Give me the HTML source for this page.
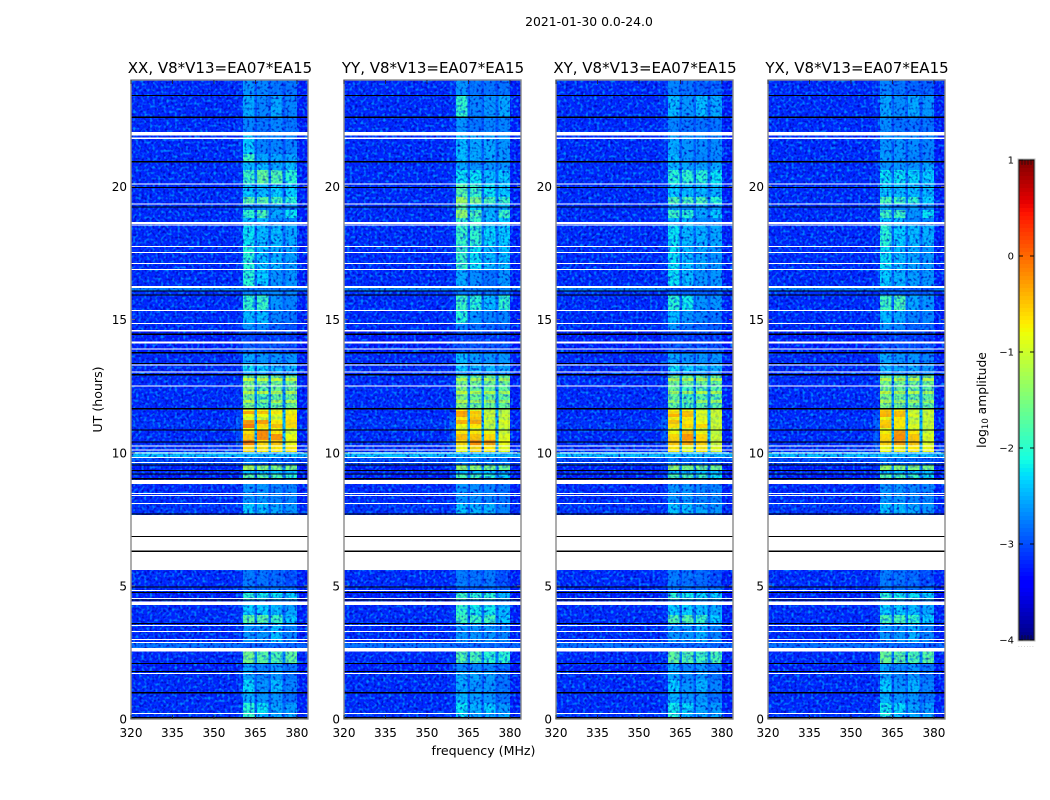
<!DOCTYPE html>
<html>
<head>
<meta charset="utf-8">
<title>2021-01-30 amplitude waterfall</title>
<style>
html,body{margin:0;padding:0;background:#fff;}
svg{display:block;}
text{font-family:"DejaVu Sans","Liberation Sans",sans-serif;fill:#000;}
</style>
</head>
<body>
<svg id="chart" xmlns="http://www.w3.org/2000/svg" width="1050" height="800" viewBox="0 0 1050 800">
<defs>
<filter id="grain-dark" x="0" y="0" width="100%" height="100%" color-interpolation-filters="sRGB">
<feTurbulence type="fractalNoise" baseFrequency="0.38" numOctaves="1" seed="3"/>
<feColorMatrix type="matrix" values="0 0 0 0 0  0 0 0 0 0  0 0 0 0 0.72  3.2 0 0 0 -1.56"/>
</filter>
<filter id="grain-light" x="0" y="0" width="100%" height="100%" color-interpolation-filters="sRGB">
<feTurbulence type="fractalNoise" baseFrequency="0.36" numOctaves="1" seed="11"/>
<feColorMatrix type="matrix" values="0 0 0 0 0  0 0 0 0 0.55  0 0 0 0 1  0 3.4 0 0 -1.64"/>
</filter>
</defs>
<rect x="0" y="0" width="1050" height="800" fill="#fff"/>
<text x="589" y="26" font-size="12.4" text-anchor="middle">2021-01-30 0.0-24.0</text>
<g id="panels"></g>
<text x="483.5" y="755" font-size="12.6" text-anchor="middle">frequency (MHz)</text>
<text transform="translate(102,399.5) rotate(-90)" font-size="12.6" text-anchor="middle">UT (hours)</text>
<g id="colorbar"></g>
<text transform="translate(986,400) rotate(-90)" font-size="12.3" text-anchor="middle">log<tspan font-size="8.5" dy="2">10</tspan><tspan dy="-2"> amplitude</tspan></text>
</svg>
<script>
const polarizations = ["XX", "YY", "XY", "YX"];
const baselineLabel = "V8*V13=EA07*EA15";
const xTicks = [320, 335, 350, 365, 380];
const yTicks = [0, 5, 10, 15, 20];
const colorTicks = [1, 0, -1, -2, -3, -4];

/* band edges in MHz */
const bandEdges = [[360.5, 364.7], [365.6, 369.8], [370.7, 374.8], [375.8, 380.0]];

/* time-row boundaries in UT hours, descending */
const rowEdges = [24,23.4,22.61,22.05,21.22,20.93,20.62,20.09,19.61,19.34,19.12,18.82,18.55,17.73,16.86,16.19,16.08,15.92,15.32,14.84,14.61,14.42,14.12,13.75,13.3,13.03,12.92,12.81,12.69,12.51,12.32,12.21,11.98,11.87,11.68,11.57,11.46,11.34,11.23,11.08,10.93,10.85,10.7,10.48,10.29,10.03,9.8,9.54,9.35,9.2,9.05,8.83,8.11,7.7,5.6,4.96,4.77,4.47,4.28,3.91,3.57,2.85,2.55,2.1,1.8,1.46,1.01,0.6,0.19,0];

/* log10 amplitude outside the bands, one per row */
const backgroundLevels = [-3.2,-3.2,-3.2,-3.2,-3.2,-3.2,-3.2,-3.2,-3.2,-3.2,-3.2,-3.2,-3.2,-3.2,-3.2,-2.75,-3.15,-3.2,-3.2,-3.2,-3.25,-3.25,-3.25,-3.2,-3.2,-3.2,-3.2,-3.2,-3.2,-3.2,-3.2,-3.2,-3.2,-3.2,-3.2,-3.2,-3.2,-3.2,-3.15,-3.15,-3.2,-3.2,-3.2,-3.2,-3.2,-2.4,-3.05,-3.25,-3.2,-3.25,-3.2,-3.2,-3.15,-3.2,-3.2,-3.2,-3.25,-3.2,-3.2,-3.2,-3.2,-2.85,-3.2,-3.25,-3.2,-3.2,-3.2,-3.2,-3.15];

/* log10 amplitude just below the band (358-360.5 MHz), one per row */
const shoulderLevels = [-3.15,-3.15,-3.15,-3.15,-3.15,-3.15,-3.15,-3.15,-3.15,-3.15,-3.15,-3.15,-3.15,-3.15,-3.15,-2.75,-3.15,-3.15,-3.15,-3.15,-3.15,-3.15,-3.15,-3.15,-3.15,-3.15,-3.15,-3.15,-3.15,-3.15,-3.15,-3.15,-3.15,-3.15,-3.15,-3.1,-3.05,-3,-2.95,-2.95,-3,-3.05,-3,-3,-3.05,-2.4,-3.05,-3.15,-3.15,-3.15,-3.15,-3.15,-3.15,-3.15,-3.15,-3.15,-3.15,-3.15,-3.15,-3.15,-3.15,-2.85,-3.15,-3.15,-3.15,-3.15,-3.15,-3.15,-3.15];

/* log10 amplitude per row: [band1, band2, band3, band4] */
const levelsXX = [[-2.5,-2.6,-2.7,-2.7],[-2.4,-2.6,-2.4,-2.6],[-2.6,-2.7,-2.6,-2.7],[-2.2,-2.6,-2.6,-2.6],[-1.9,-2.4,-2.4,-2.4],[-2.3,-2.3,-2.4,-2.3],[-1.9,-1.65,-1.75,-2],[-2.2,-2.3,-2.2,-2.2],[-1.7,-1.7,-1.85,-2],[-2.5,-2.6,-2.5,-2.5],[-1.95,-1.8,-2.4,-2.1],[-2.3,-2.3,-2.6,-2.6],[-2.1,-2.3,-2.3,-2.4],[-2,-2.25,-2.35,-2.45],[-2,-2.2,-2.5,-2.5],[-2.7,-2.7,-2.7,-2.7],[-2.6,-2.6,-2.6,-2.6],[-1.95,-1.9,-2.5,-2.6],[-2.3,-2.3,-2.6,-2.7],[-2.5,-2.6,-2.8,-2.9],[-2.9,-2.9,-2.9,-2.9],[-2.95,-3,-3,-3],[-2.8,-2.9,-2.9,-3],[-2.4,-2.5,-2.5,-2.5],[-2.1,-2.2,-2.3,-2.3],[-2.6,-2.6,-2.6,-2.6],[-1.6,-1.6,-1.6,-1.6],[-1,-1.05,-1.05,-1.05],[-1.5,-1.55,-1.55,-1.55],[-1.45,-1.75,-1.6,-1.6],[-1.1,-1.1,-1.1,-1.15],[-1.55,-1.8,-1.65,-1.6],[-1.15,-1.5,-1.2,-1.2],[-1.55,-1.8,-1.65,-1.6],[-0.8,-0.8,-0.9,-0.9],[-0.35,-0.5,-0.7,-0.75],[-0.8,-0.8,-0.9,-0.7],[-1,-1,-1,-0.7],[-0.3,-0.3,-0.7,-0.6],[-0.1,-0.6,-0.5,-0.6],[-0.8,-0.8,-0.8,-1],[-0.65,-0.2,-0.7,-1],[-0.5,-0.2,-0.25,-0.8],[-0.15,-0.6,-0.5,-0.8],[-0.6,-0.7,-0.7,-0.7],[-2.3,-2.3,-2.3,-2.3],[-2.6,-2.7,-2.7,-2.8],[-1.2,-1.4,-1.5,-1.5],[-2.3,-2.3,-2.3,-2.3],[-1.7,-1.7,-1.8,-2],[-2.5,-2.5,-2.5,-2.5],[-2.5,-2.5,-2.6,-2.6],[-2.2,-2.3,-2.4,-2.5],[-3,-3,-3,-3],[-2.65,-2.7,-2.75,-2.9],[-2.7,-2.7,-2.7,-2.7],[-2,-2.05,-2.1,-2.2],[-2.6,-2.6,-2.6,-2.6],[-2.2,-2.2,-2.3,-2.4],[-1.7,-1.7,-1.9,-2.2],[-2.5,-2.5,-2.3,-2.6],[-2.8,-2.8,-2.8,-2.8],[-1.55,-1.7,-1.8,-1.65],[-2.4,-2.6,-2.5,-2.7],[-2.4,-2.6,-2.5,-2.7],[-2.15,-2.5,-2.3,-2.6],[-2.35,-2.5,-2.5,-2.7],[-2,-2.1,-2.4,-2.45],[-1.9,-2.3,-2.4,-2.4]];

const levelsYY = [[-2.5,-2.7,-2.7,-2.7],[-1.95,-2.6,-2.5,-2.4],[-2.5,-2.7,-2.6,-2.6],[-2.3,-2.4,-2.4,-2.5],[-2.3,-2.4,-2.4,-2.5],[-2.4,-2.5,-2.5,-2.5],[-2.1,-2.1,-2.3,-2.2],[-1.7,-1.9,-2.1,-2.2],[-1.3,-1.5,-1.8,-1.9],[-1.7,-2.2,-2.4,-2.3],[-1.35,-1.8,-2.3,-1.9],[-1.9,-1.9,-2.3,-2.2],[-1.9,-1.95,-2.15,-2.2],[-1.9,-2.1,-2.3,-2.3],[-2.4,-2.55,-2.7,-2.5],[-2.6,-2.6,-2.6,-2.6],[-2.7,-2.7,-2.7,-2.7],[-1.9,-2,-2.3,-1.95],[-2,-2.5,-2.6,-2.6],[-2.6,-2.7,-2.8,-2.8],[-2.9,-2.9,-2.9,-2.9],[-3,-3,-3,-3],[-2.9,-2.9,-2.9,-2.9],[-2.3,-2.45,-2.5,-2.5],[-2.2,-2.3,-2.3,-2.4],[-2.6,-2.6,-2.6,-2.6],[-1.65,-1.65,-1.65,-1.65],[-1.15,-1.2,-1.2,-1.2],[-1.5,-1.55,-1.55,-1.55],[-1.45,-1.6,-1.6,-1.65],[-1.05,-1.15,-1.15,-1.2],[-1.45,-1.6,-1.6,-1.65],[-1.1,-1.25,-1.25,-1.3],[-1.45,-1.6,-1.6,-1.65],[-0.7,-0.9,-1.1,-1.1],[-0.3,-0.5,-1,-1.1],[-0.35,-0.6,-1,-1],[-0.7,-0.5,-1.1,-1.1],[-0.4,-0.35,-1,-0.9],[-0.8,-0.7,-1.1,-1],[-1,-1,-1.2,-1.1],[-0.7,-0.7,-0.8,-1],[-0.45,-0.5,-0.6,-0.9],[-0.6,-0.2,-0.3,-0.8],[-0.8,-0.6,-0.7,-0.9],[-2.3,-2.3,-2.3,-2.3],[-2.6,-2.6,-2.6,-2.6],[-1.3,-1.4,-1.5,-1.6],[-2.3,-2.3,-2.3,-2.3],[-1.8,-1.85,-2,-2.2],[-2.5,-2.5,-2.5,-2.5],[-2.5,-2.55,-2.6,-2.7],[-2.25,-2.35,-2.35,-2.6],[-3,-3,-3,-3],[-2.65,-2.7,-2.65,-2.9],[-2.8,-2.8,-2.8,-2.8],[-1.9,-2,-2,-2.3],[-2.6,-2.6,-2.6,-2.6],[-1.95,-2.05,-2.05,-2.3],[-1.85,-1.9,-1.85,-2.2],[-2.5,-2.5,-2.5,-2.6],[-2.8,-2.8,-2.8,-2.8],[-1.75,-1.8,-2,-2],[-2.6,-2.6,-2.6,-2.8],[-2.35,-2.4,-2.45,-2.7],[-2.4,-2.5,-2.5,-2.7],[-2.3,-2.45,-2.5,-2.7],[-2.1,-2.35,-2.2,-2.45],[-2.1,-2.4,-2.4,-2.4]];

const levelsXY = [[-2.6,-2.7,-2.8,-2.8],[-2.3,-2.5,-2.3,-2.4],[-2.6,-2.7,-2.7,-2.7],[-2.4,-2.5,-2.55,-2.55],[-2.3,-2.5,-2.6,-2.6],[-2.3,-2.4,-2.4,-2.4],[-2,-1.95,-2,-2.1],[-2.2,-2.3,-2.3,-2.3],[-1.75,-1.8,-1.8,-2],[-2.4,-2.6,-2.4,-2.5],[-1.9,-2,-2.4,-2.2],[-2.3,-2.3,-2.6,-2.6],[-2.1,-2.3,-2.35,-2.4],[-2.1,-2.3,-2.4,-2.5],[-2.1,-2.3,-2.5,-2.5],[-2.85,-2.85,-2.85,-2.85],[-2.8,-2.8,-2.8,-2.8],[-2,-2.05,-2.5,-2.5],[-2.3,-2.5,-2.6,-2.7],[-2.5,-2.7,-2.8,-2.8],[-2.9,-2.9,-2.9,-2.9],[-3,-3,-3,-3],[-2.9,-2.9,-2.9,-2.9],[-2.4,-2.5,-2.5,-2.5],[-2.1,-2.2,-2.3,-2.35],[-2.6,-2.6,-2.6,-2.6],[-1.65,-1.65,-1.65,-1.65],[-1.15,-1.15,-1.15,-1.15],[-1.55,-1.6,-1.6,-1.6],[-1.6,-1.85,-1.7,-1.7],[-1.25,-1.25,-1.15,-1.2],[-1.65,-1.85,-1.7,-1.7],[-1.35,-1.6,-1.3,-1.3],[-1.65,-1.85,-1.7,-1.7],[-0.75,-0.8,-1,-1],[-0.6,-0.5,-0.9,-1],[-0.4,-0.45,-0.9,-1],[-0.75,-0.7,-0.9,-1.1],[-0.5,-0.7,-0.8,-1],[-0.65,-0.6,-0.6,-1],[-1,-1,-1,-1],[-0.8,-0.5,-0.8,-1.1],[-0.6,-0.25,-0.6,-1],[-0.5,-0.35,-0.55,-1],[-0.7,-0.85,-0.7,-0.9],[-2.3,-2.3,-2.3,-2.3],[-2.6,-2.7,-2.7,-2.8],[-1.35,-1.5,-1.55,-1.55],[-2.3,-2.3,-2.3,-2.3],[-1.8,-1.8,-1.9,-2.1],[-2.5,-2.5,-2.5,-2.5],[-2.5,-2.5,-2.6,-2.6],[-2.25,-2.3,-2.4,-2.5],[-3,-3,-3,-3],[-2.65,-2.7,-2.75,-2.9],[-2.7,-2.7,-2.7,-2.7],[-2,-2.05,-2.15,-2.2],[-2.6,-2.6,-2.6,-2.6],[-2.2,-2.2,-2.3,-2.4],[-1.75,-1.75,-1.9,-2.2],[-2.5,-2.5,-2.35,-2.6],[-2.8,-2.8,-2.8,-2.8],[-1.65,-1.75,-1.85,-1.8],[-2.4,-2.6,-2.5,-2.7],[-2.4,-2.6,-2.5,-2.7],[-2.2,-2.5,-2.35,-2.6],[-2.35,-2.5,-2.5,-2.7],[-2.05,-2.15,-2.4,-2.45],[-2,-2.3,-2.4,-2.4]];

const levelsYX = [[-2.6,-2.7,-2.8,-2.8],[-2.4,-2.55,-2.4,-2.5],[-2.55,-2.7,-2.7,-2.7],[-2.5,-2.5,-2.55,-2.6],[-2.45,-2.5,-2.6,-2.6],[-2.5,-2.5,-2.5,-2.4],[-2.1,-2.1,-2.15,-2.2],[-2.2,-2.3,-2.3,-2.3],[-1.8,-1.85,-1.95,-2.2],[-2.4,-2.6,-2.5,-2.6],[-1.85,-1.85,-2.5,-2.1],[-2.2,-2.3,-2.6,-2.6],[-2,-2.2,-2.3,-2.35],[-2.1,-2.3,-2.4,-2.5],[-2.2,-2.35,-2.45,-2.5],[-2.85,-2.85,-2.85,-2.85],[-2.8,-2.8,-2.8,-2.8],[-1.85,-1.8,-2.4,-2.5],[-2.3,-2.4,-2.6,-2.6],[-2.5,-2.6,-2.8,-2.8],[-2.9,-2.9,-2.9,-2.9],[-3,-3,-3,-3],[-2.9,-2.9,-2.9,-2.9],[-2.4,-2.5,-2.5,-2.6],[-2.3,-2.4,-2.4,-2.5],[-2.6,-2.6,-2.6,-2.6],[-1.6,-1.6,-1.6,-1.6],[-1.1,-1.1,-1.1,-1.1],[-1.5,-1.55,-1.55,-1.55],[-1.5,-1.6,-1.6,-1.65],[-1.05,-1.15,-1.15,-1.2],[-1.5,-1.6,-1.6,-1.65],[-1.15,-1.25,-1.25,-1.3],[-1.5,-1.6,-1.6,-1.65],[-0.55,-0.7,-1,-1],[-0.45,-0.5,-1,-1],[-0.4,-0.45,-0.9,-1],[-0.8,-0.7,-1.1,-1.05],[-0.55,-0.7,-1,-1],[-0.5,-0.7,-0.9,-1],[-0.9,-0.9,-1,-1.1],[-0.75,-0.3,-0.7,-1],[-0.6,-0.2,-0.5,-0.9],[-0.55,-0.3,-0.5,-0.9],[-0.8,-0.75,-0.7,-0.8],[-2.3,-2.3,-2.3,-2.3],[-2.6,-2.7,-2.7,-2.8],[-1.3,-1.4,-1.45,-1.5],[-2.3,-2.3,-2.3,-2.3],[-1.75,-1.8,-1.9,-2.1],[-2.5,-2.5,-2.5,-2.5],[-2.5,-2.5,-2.6,-2.6],[-2.25,-2.3,-2.4,-2.5],[-3,-3,-3,-3],[-2.65,-2.7,-2.75,-2.9],[-2.7,-2.7,-2.7,-2.7],[-2,-2.05,-2.1,-2.2],[-2.6,-2.6,-2.6,-2.6],[-2.2,-2.2,-2.3,-2.4],[-1.8,-1.8,-1.95,-2.2],[-2.5,-2.5,-2.35,-2.6],[-2.8,-2.8,-2.8,-2.8],[-1.6,-1.7,-1.8,-1.7],[-2.4,-2.6,-2.5,-2.7],[-2.4,-2.6,-2.5,-2.7],[-2.2,-2.5,-2.35,-2.6],[-2.35,-2.5,-2.5,-2.7],[-2.05,-2.15,-2.4,-2.45],[-2,-2.3,-2.4,-2.4]];

/* flagged (blank) time ranges, [start hour, end hour] */
const whiteFlags = [[21.91,22.05],[21.78,21.84],[20.08,20.11],[19.32,19.36],[18.6,18.67],[18.54,18.57],[17.73,17.77],[17.5,17.54],[17.09,17.13],[16.86,16.9],[16.19,16.26],[15.32,15.36],[14.84,14.87],[14.55,14.61],[14.1,14.18],[13.88,13.92],[13.29,13.32],[13.01,13.05],[12.48,12.52],[10.24,10.27],[10.09,10.13],[9.98,10.01],[9.8,9.84],[9.64,9.66],[8.82,8.98],[8.46,8.49],[8.38,8.41],[8.08,8.11],[5.6,7.66],[4.81,4.85],[4.51,4.54],[4.28,4.41],[3.49,3.53],[3.27,3.31],[2.97,3],[2.85,2.89],[2.53,2.67],[1.69,1.73],[0.18,0.23]];

/* zero-amplitude (black) time ranges, [start hour, end hour] */
const blackFlags = [[23.39,23.43],[22.58,22.62],[20.91,20.95],[19.95,19.99],[19.21,19.25],[16.06,16.1],[15.9,15.94],[14.42,14.48],[13.73,13.78],[13.33,13.37],[12.91,12.95],[11.62,11.68],[10.83,10.87],[10.39,10.43],[9.52,9.56],[9.31,9.35],[9.18,9.22],[8.99,9.05],[7.68,7.72],[6.84,6.88],[6.28,6.32],[4.93,4.97],[4.73,4.77],[4.45,4.49],[3.56,3.6],[2.07,2.11],[1.77,1.81],[0.96,1.01],[0.02,0.08]];

const panelLevels = [levelsXX, levelsYY, levelsXY, levelsYX];
const panelLefts = [131, 344, 556, 768];
const PANEL_W = 177, TOP = 80, BOTTOM = 719;
const FREQ_MIN = 320, FREQ_MAX = 384, HOUR_MAX = 24, CB_MIN = -4, CB_MAX = 1;
const CB_X = 1019, CB_W = 15, CB_TOP = 160, CB_BOTTOM = 640;
const SVGNS = "http://www.w3.org/2000/svg";

function xScale(panel, mhz) { return panelLefts[panel] + (mhz - FREQ_MIN) / (FREQ_MAX - FREQ_MIN) * PANEL_W; }
function yScale(hour) { return BOTTOM - hour / HOUR_MAX * (BOTTOM - TOP); }
function cbScale(v) { return CB_BOTTOM - (v - CB_MIN) / (CB_MAX - CB_MIN) * (CB_BOTTOM - CB_TOP); }

function ramp(t, pts) {
  for (let i = 1; i < pts.length; i++) {
    if (t <= pts[i][0]) {
      const a = pts[i - 1], b = pts[i];
      return a[1] + (b[1] - a[1]) * (t - a[0]) / (b[0] - a[0]);
    }
  }
  return pts[pts.length - 1][1];
}
function jet(v) {
  const t = Math.max(0, Math.min(1, (v - CB_MIN) / (CB_MAX - CB_MIN)));
  const r = ramp(t, [[0,0],[0.35,0],[0.66,1],[0.89,1],[1,0.5]]);
  const g = ramp(t, [[0,0],[0.125,0],[0.375,1],[0.64,1],[0.91,0],[1,0]]);
  const b = ramp(t, [[0,0.5],[0.11,1],[0.34,1],[0.65,0],[1,0]]);
  return "rgb(" + Math.round(r * 255) + "," + Math.round(g * 255) + "," + Math.round(b * 255) + ")";
}
function make(tag, attrs, parent) {
  const el = document.createElementNS(SVGNS, tag);
  for (const k in attrs) el.setAttribute(k, attrs[k]);
  parent.appendChild(el);
  return el;
}

const panelsRoot = document.getElementById("panels");

polarizations.forEach(function (pol, p) {
  const g = make("g", {}, panelsRoot);
  
  

  const x0 = panelLefts[p], x1 = x0 + PANEL_W;

  const cells = make("g", { "shape-rendering": "crispEdges" }, g);
  
  

  const levels = panelLevels[p];
  const segsByRow = levels.map(function (row, r) {
    const bg = backgroundLevels[r], sh = shoulderLevels[r];
    const mean = (row[0] + row[1] + row[2] + row[3]) / 4;
    const gap = Math.max(bg, -3.15 + 0.28 * (mean + 3.15));
    return [
      [FREQ_MIN, 358, bg, false], [358, bandEdges[0][0], sh, false],
      [bandEdges[0][0], bandEdges[0][1], row[0], true], [bandEdges[0][1], bandEdges[1][0], gap, false],
      [bandEdges[1][0], bandEdges[1][1], row[1], true], [bandEdges[1][1], bandEdges[2][0], gap, false],
      [bandEdges[2][0], bandEdges[2][1], row[2], true], [bandEdges[2][1], bandEdges[3][0], gap, false],
      [bandEdges[3][0], bandEdges[3][1], row[3], true], [bandEdges[3][1], FREQ_MAX, bg - 0.05, false]
    ];
  });

  segsByRow.forEach(function (segs, r) {
    const yTop = yScale(rowEdges[r]), yBot = yScale(rowEdges[r + 1]);
    segs.forEach(function (s) {
      const lvl = s[3] && s[2] < -2 ? s[2] - 0.12 : s[2];
      const cell = make("rect", { x: xScale(p, s[0]), y: yTop, width: xScale(p, s[1]) - xScale(p, s[0]), height: yBot - yTop, fill: jet(lvl) }, cells);
      
      
    });
  });

  const grainD = make("rect", { x: x0, y: TOP, width: PANEL_W, height: BOTTOM - TOP, filter: "url(#grain-dark)" }, g);
  
  
  const grainL = make("rect", { x: x0, y: TOP, width: PANEL_W, height: BOTTOM - TOP, filter: "url(#grain-light)" }, g);
  
  

  /* strong signal has little visible noise: repaint bright band cells over the grain */
  const clean = make("g", { "shape-rendering": "crispEdges" }, g);
  
  
  segsByRow.forEach(function (segs, r) {
    const yTop = yScale(rowEdges[r]), yBot = yScale(rowEdges[r + 1]);
    segs.forEach(function (s) {
      if (!s[3] || s[2] <= -2.2) return;
      const cell = make("rect", { x: xScale(p, s[0]), y: yTop, width: xScale(p, s[1]) - xScale(p, s[0]), height: yBot - yTop, fill: jet(s[2]), opacity: Math.min(0.85, (s[2] + 2.2) / 1.6) }, clean);
      
      
    });
  });

  const flags = make("g", { "shape-rendering": "crispEdges" }, g);
  
  
  whiteFlags.forEach(function (f) {
    const band = make("rect", { x: x0, y: yScale(f[1]), width: PANEL_W, height: Math.max(1, yScale(f[0]) - yScale(f[1])), fill: "#fff" }, flags);
    
    
  });
  blackFlags.forEach(function (f) {
    const band = make("rect", { x: x0, y: yScale(f[1]), width: PANEL_W, height: Math.max(1, yScale(f[0]) - yScale(f[1])), fill: "#000" }, flags);
    
    
  });

  const frame = make("rect", { x: x0, y: TOP, width: PANEL_W, height: BOTTOM - TOP, fill: "none", stroke: "#8a8a8a", "stroke-width": 1.4 }, g);
  
  

  xTicks.forEach(function (t) {
    const x = xScale(p, t);
    const tb = make("line", { x1: x, x2: x, y1: BOTTOM, y2: BOTTOM - 4, stroke: "#222", "stroke-width": 0.8 }, g);
    
    
    const tt = make("line", { x1: x, x2: x, y1: TOP, y2: TOP + 4, stroke: "#222", "stroke-width": 0.8 }, g);
    
    
    const lab = make("text", { x: x, y: 737, "font-size": 12, "text-anchor": "middle" }, g);
    
    
    lab.textContent = String(t);
  });
  yTicks.forEach(function (t) {
    const y = yScale(t);
    const tl = make("line", { x1: x0, x2: x0 + 4, y1: y, y2: y, stroke: "#777", "stroke-width": 0.8 }, g);
    
    
    const tr = make("line", { x1: x1, x2: x1 - 4, y1: y, y2: y, stroke: "#777", "stroke-width": 0.8 }, g);
    
    
    const lab = make("text", { x: x0 - 4, y: y + 4.5, "font-size": 12, "text-anchor": "end" }, g);
    
    
    lab.textContent = String(t);
  });

  const title = make("text", { x: x0 + PANEL_W / 2 + 0.5, y: 73, "font-size": 15, "text-anchor": "middle" }, g);
  
  
  title.textContent = pol + ", " + baselineLabel;
});

const cb = document.getElementById("colorbar");
const CB_STEPS = 120;
for (let i = 0; i < CB_STEPS; i++) {
  const vHigh = CB_MAX - i * (CB_MAX - CB_MIN) / CB_STEPS;
  const vLow = CB_MAX - (i + 1) * (CB_MAX - CB_MIN) / CB_STEPS;
  const seg = make("rect", { x: CB_X, y: cbScale(vHigh), width: CB_W, height: cbScale(vLow) - cbScale(vHigh) + 0.5, fill: jet((vHigh + vLow) / 2), "shape-rendering": "crispEdges" }, cb);
  
  
}
const cbFrame = make("rect", { x: CB_X, y: CB_TOP, width: CB_W, height: CB_BOTTOM - CB_TOP, fill: "none", stroke: "#1a1a1a", "stroke-width": 1 }, cb);


const cbOuter = make("rect", { x: CB_X - 1, y: CB_TOP - 1, width: CB_W + 2, height: CB_BOTTOM - CB_TOP + 2, fill: "none", stroke: "#bbb", "stroke-width": 1 }, cb);



colorTicks.forEach(function (t) {
  const y = cbScale(t);
  const l = make("line", { x1: CB_X, x2: CB_X + 4, y1: y, y2: y, stroke: "#000", "stroke-width": 0.9 }, cb);
  
  
  const rt = make("line", { x1: CB_X + CB_W, x2: CB_X + CB_W - 4, y1: y, y2: y, stroke: "#000", "stroke-width": 0.9 }, cb);
  
  
  const lab = make("text", { x: CB_X - 5, y: y + 3.5, "font-size": 10, "text-anchor": "end" }, cb);
  
  
  lab.textContent = (t < 0 ? "\u2212" : "") + Math.abs(t);
});
[CB_TOP, CB_BOTTOM].forEach(function (yEdge, idx) {
  for (let k = 1; k <= 4; k++) {
    const x = CB_X + k * CB_W / 5;
    const m = make("line", { x1: x, x2: x, y1: yEdge, y2: yEdge + (idx ? -5 : 5), stroke: "#111", "stroke-width": 0.7 }, cb);
    
    
  }
});
const cbDots = make("text", { x: 1026.5, y: 647, "font-size": 5, "text-anchor": "middle", "letter-spacing": 1.2, style: "fill:#888" }, cb);


cbDots.textContent = "......";
</script>
</body>
</html>
